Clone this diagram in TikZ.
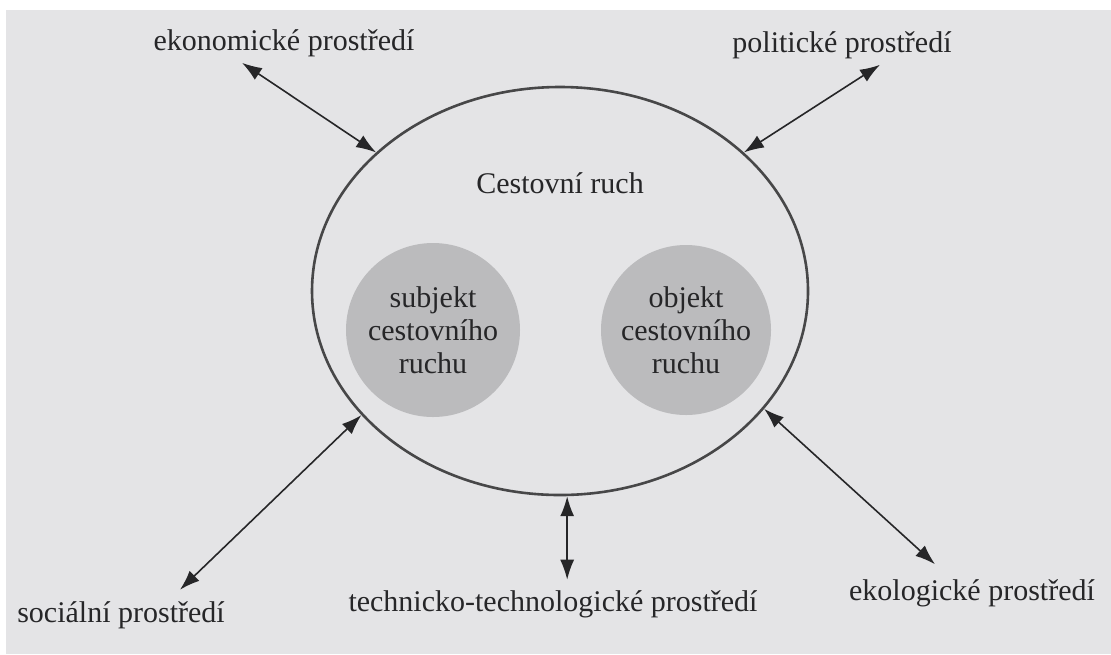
\documentclass[tikz,border=0pt]{standalone}
\usepackage{fontspec}
\setmainfont{Liberation Serif}
\usetikzlibrary{positioning, arrows.meta, shapes.geometric}
\definecolor{papir}{RGB}{228,228,230}
\definecolor{kruhfill}{RGB}{187,187,189}
\definecolor{inkoust}{RGB}{38,38,40}

\begin{document}
\begin{tikzpicture}[x=0.5pt, y=-0.5pt,
  ruchbox/.style={draw=inkoust!85, ellipse, line width=1.3pt, minimum width=248pt,
                minimum height=204pt, inner sep=0pt},
  kruh/.style={circle, fill=kruhfill, minimum size=87pt, inner sep=0pt, align=center,
                font=\fontsize{15}{16.5}\selectfont, text=inkoust},
  lbl/.style={font=\fontsize{15}{18}\selectfont, text=inkoust, inner sep=3pt, anchor=base},
  arr/.style={{Latex[length=10pt, width=7pt]}-{Latex[length=10pt, width=7pt]},
                line width=0.8pt, draw=inkoust},
]

% Page
\fill[white] (0,0) rectangle (1111,654);
\fill[papir] (6,10) rectangle (1111,654);
\useasboundingbox (0,0) rectangle (1111,654);

% Tourism
\node[ruchbox] (ruch) at (560,291) {};
\node[lbl, anchor=center] (nazev) at (560,183) {Cestovní ruch};
\node[kruh] (subj) at (433,330) {subjekt\\cestovního\\ruchu};
\node[kruh, minimum size=85pt] (obj) at (686,330) {objekt\\cestovního\\ruchu};

% Environments
\node[lbl] (eko) at (284,50) {ekonomické prostředí};
\node[lbl] (pol) at (842,52) {politické prostředí};
\node[lbl] (soc) at (121,622) {sociální prostředí};
\node[lbl] (tech) at (553,611) {technicko-technologické prostředí};
\node[lbl] (ekol) at (972,600) {ekologické prostředí};
\coordinate (techtop) at ([yshift=2pt]tech.north);

% Arrows
\draw[arr] ([xshift=-21pt]eko.south) -- (ruch.143);
\draw[arr] ([xshift=19pt]pol.south) -- (ruch.37.5);
\draw[arr] ([xshift=29.5pt, yshift=2.5pt]soc.north) -- (ruch.212);
\draw[arr] (ruch.272) -- (ruch.272 |- techtop);
\draw[arr] ([xshift=-18.5pt, yshift=4.25pt]ekol.north) -- (ruch.330.5);

\end{tikzpicture}
\end{document}
